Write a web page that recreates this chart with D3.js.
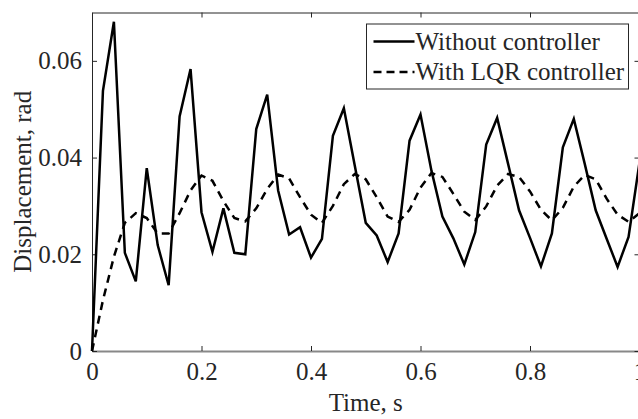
<!DOCTYPE html>
<html lang="en">
<head>
  <meta charset="UTF-8" />
  <title>Displacement response</title>
  <script src="https://d3js.org/d3.v7.min.js"></script>
  <style>
    body {
      margin: 0;
      background: #fff;
    }
    svg text {
      font-family: "Liberation Serif", "Times New Roman", serif;
      fill: #262626;
    }
  </style>
</head>
<body>
<svg id="chart"></svg>
<script>
// time samples, s
const time = d3.range(0, 51).map(i => i * 0.02);

// displacement without controller, rad
const withoutCtrl = [
  0, 0.0538, 0.0681, 0.0203, 0.0144, 0.0378, 0.0219, 0.0136, 0.0485, 0.0583,
  0.0287, 0.0205, 0.0295, 0.0203, 0.0200, 0.0459, 0.0530, 0.0332, 0.0241, 0.0256,
  0.0193, 0.0232, 0.0445, 0.0502, 0.0383, 0.0265, 0.0239, 0.0184, 0.0243, 0.0435,
  0.0489, 0.0373, 0.0278, 0.0233, 0.0179, 0.0246, 0.0427, 0.0482, 0.0387, 0.0291,
  0.0234, 0.0175, 0.0243, 0.0421, 0.0480, 0.0387, 0.0291, 0.0232, 0.0174, 0.0236,
  0.0390
];

// displacement with LQR controller, rad
const withLqr = [
  0, 0.0105, 0.0195, 0.0265, 0.0285, 0.0275, 0.0243, 0.0243, 0.0285, 0.0332,
  0.0363, 0.0352, 0.0310, 0.0275, 0.0268, 0.0295, 0.0335, 0.0365, 0.0357, 0.0318,
  0.0282, 0.0265, 0.0300, 0.0345, 0.0366, 0.0355, 0.0318, 0.0278, 0.0267, 0.0292,
  0.0338, 0.0368, 0.0360, 0.0325, 0.0288, 0.0271, 0.0299, 0.0342, 0.0366, 0.0360,
  0.0330, 0.0292, 0.0270, 0.0296, 0.0340, 0.0364, 0.0355, 0.0315, 0.0282, 0.0267,
  0.0285
];

const xTicks = [0, 0.2, 0.4, 0.6, 0.8, 1];
const yTicks = [0, 0.02, 0.04, 0.06];
const seriesNames = ["Without controller", "With LQR controller"];

const width = 638, height = 419;
const margin = {top: 12.5, right: -1.5, bottom: 68, left: 92};
const fontSize = "25px";

const svg = d3.select("#chart").attr("width", width).attr("height", height);

const x = d3.scaleLinear().domain([0, 1]).range([margin.left, width - margin.right]);
const y = d3.scaleLinear().domain([0, 0.07]).range([height - margin.bottom, margin.top]);

const axisColor = "#262626";

// bottom axis
const xAxis = svg.append("g")
  .attr("transform", `translate(0,${y(0)})`)
  .call(d3.axisBottom(x).tickValues(xTicks).tickSizeInner(-5).tickSizeOuter(0)
    .tickPadding(11).tickFormat(d => d === 1 ? "1" : d3.format("")(d)));
xAxis.select(".domain").attr("stroke", "#888").attr("stroke-width", 2);
xAxis.selectAll(".tick line").attr("stroke", axisColor);
xAxis.selectAll("text").style("font-size", fontSize).attr("dy", "0.71em");

// top axis, ticks only
const xTop = svg.append("g")
  .attr("transform", `translate(0,${y(0.07)})`)
  .call(d3.axisTop(x).tickValues(xTicks).tickSizeInner(-5).tickSizeOuter(0).tickFormat(""));
xTop.select(".domain").attr("stroke", axisColor).attr("stroke-width", 1);
xTop.selectAll(".tick line").attr("stroke", axisColor);

// left axis
const yAxis = svg.append("g")
  .attr("transform", `translate(${x(0)},0)`)
  .call(d3.axisLeft(y).tickValues(yTicks).tickSizeInner(-5).tickSizeOuter(0)
    .tickPadding(10).tickFormat(d => d === 0 ? "0" : d3.format(".2f")(d)));
yAxis.select(".domain").attr("stroke", axisColor).attr("stroke-width", 1);
yAxis.selectAll(".tick line").attr("stroke", axisColor);
yAxis.selectAll("text").style("font-size", fontSize);

// right axis
const yRight = svg.append("g")
  .attr("transform", `translate(${x(1)},0)`)
  .call(d3.axisRight(y).tickValues(yTicks).tickSizeInner(-5).tickSizeOuter(0).tickFormat(""));
yRight.select(".domain").attr("stroke", axisColor);
yRight.selectAll(".tick line").attr("stroke", axisColor);

// axis titles
svg.append("text")
  .attr("x", (x(0) + x(1)) / 2)
  .attr("y", 411)
  .attr("text-anchor", "middle")
  .style("font-size", fontSize)
  .text("Time, s");

svg.append("text")
  .attr("transform", `translate(31,${(y(0) + y(0.07)) / 2}) rotate(-90)`)
  .attr("text-anchor", "middle")
  .style("font-size", fontSize)
  .text("Displacement, rad");

// lines
const line = d3.line().x((d, i) => x(time[i])).y(d => y(d));

svg.append("path")
  .datum(withoutCtrl)
  .attr("fill", "none")
  .attr("stroke", "#000")
  .attr("stroke-width", 2.5)
  .attr("d", line);

svg.append("path")
  .datum(withLqr)
  .attr("fill", "none")
  .attr("stroke", "#000")
  .attr("stroke-width", 2.5)
  .attr("stroke-dasharray", "8,6")
  .attr("d", line);

// legend
const legend = svg.append("g").attr("transform", "translate(366.5,24)");
legend.append("rect")
  .attr("width", 262).attr("height", 65)
  .attr("fill", "#fff").attr("stroke", axisColor).attr("stroke-width", 1);

seriesNames.forEach((name, i) => {
  const ly = 17.5 + i * 30.5;
  legend.append("line")
    .attr("x1", 7).attr("x2", 48)
    .attr("y1", ly).attr("y2", ly)
    .attr("stroke", "#000").attr("stroke-width", 2.5)
    .attr("stroke-dasharray", i === 1 ? "8,5" : null);
  legend.append("text")
    .attr("x", 49).attr("y", ly)
    .attr("dy", "0.32em")
    .style("font-size", fontSize)
    .text(name);
});
</script>
</body>
</html>
